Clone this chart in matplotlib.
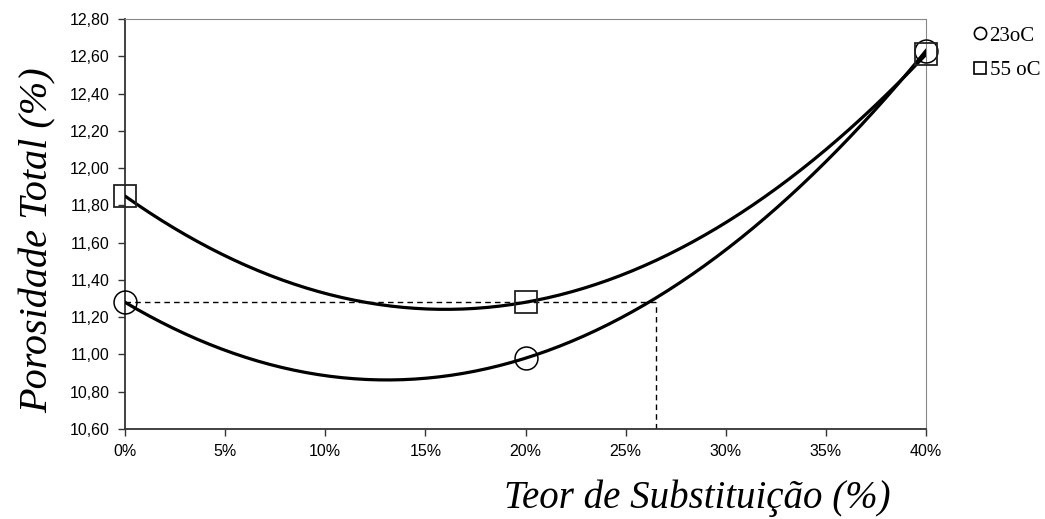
import numpy as np
import matplotlib
matplotlib.use("Agg")
import matplotlib.pyplot as plt
from matplotlib.lines import Line2D

# measured points (substitution %, total porosity %)
teor = [0, 20, 40]
poros_23 = [11.28, 10.98, 12.63]
poros_55 = [11.85, 11.28, 12.61]
# dashed guide: 23oC reaches the 0% value again at about 26.5%
guide_y = 11.28
guide_x = 26.5

yticks = [10.60, 10.80, 11.00, 11.20, 11.40, 11.60, 11.80, 12.00, 12.20, 12.40, 12.60, 12.80]
xticks = [0, 5, 10, 15, 20, 25, 30, 35, 40]

W, H = 1045, 519
fig = plt.figure(figsize=(W / 100, H / 100), dpi=100)
ax = fig.add_axes([125 / W, 1 - 429 / H, 801 / W, 410 / H])

# second-order trend lines through the three points
xs = np.linspace(0, 40, 200)
for ys in (poros_23, poros_55):
    c = np.polyfit(teor, ys, 2)
    ax.plot(xs, np.polyval(c, xs), color="black", lw=2.3, zorder=3)

ax.plot(teor, poros_23, ls="none", marker="o", ms=16.5, mfc="none", mec="black",
        mew=1.1, zorder=4, clip_on=False)
ax.plot(teor, poros_55, ls="none", marker="s", ms=15.5, mfc="none", mec="#222222",
        mew=1.3, zorder=4, clip_on=False)

ax.plot([0, guide_x], [guide_y, guide_y], ls=(0, (4, 3)), color="black", lw=1.0, zorder=2)
ax.plot([guide_x, guide_x], [10.60, guide_y], ls=(0, (4, 3)), color="black", lw=1.0, zorder=2)

ax.set_xlim(0, 40)
ax.set_ylim(10.60, 12.80)
ax.set_xticks(xticks)
ax.set_xticklabels([f"{v}%" for v in xticks])
ax.set_yticks(yticks)
ax.set_yticklabels([f"{v:.2f}".replace(".", ",") for v in yticks])
ax.tick_params(direction="out", length=5, width=1, labelsize=11.5, pad=6, color="#333333")
for lab in ax.get_xticklabels() + ax.get_yticklabels():
    lab.set_fontfamily("Liberation Sans")

ax.spines["left"].set_color("#333333")
ax.spines["bottom"].set_color("#333333")
ax.spines["left"].set_linewidth(1.3)
ax.spines["bottom"].set_linewidth(1.3)
ax.spines["top"].set_color("#888888")
ax.spines["right"].set_color("#888888")

serif = dict(family="Liberation Serif", style="italic", size=28)
fig.text(697 / W, 1 - 508 / H, "Teor de Substituição (%)", ha="center", va="baseline", **serif)
fig.text(38 / W, 1 - 240 / H, "Porosidade Total (%)", ha="center", va="center",
         rotation=90, size=29, family="Liberation Serif", style="italic")

handles = [
    Line2D([], [], ls="none", marker="o", ms=8.8, mfc="none", mec="black", mew=1.2),
    Line2D([], [], ls="none", marker="s", ms=9.2, mfc="none", mec="black", mew=1.2),
]
fig.legend(handles, ["23oC", "55 oC"], loc="upper left",
           bbox_to_anchor=(974 / W, 1 - 26 / H), frameon=False,
           prop={"family": "Liberation Serif", "size": 15},
           handlelength=0.55, handletextpad=0.2, labelspacing=0.72,
           borderpad=0, borderaxespad=0)

fig.savefig("out.png", dpi=100)
